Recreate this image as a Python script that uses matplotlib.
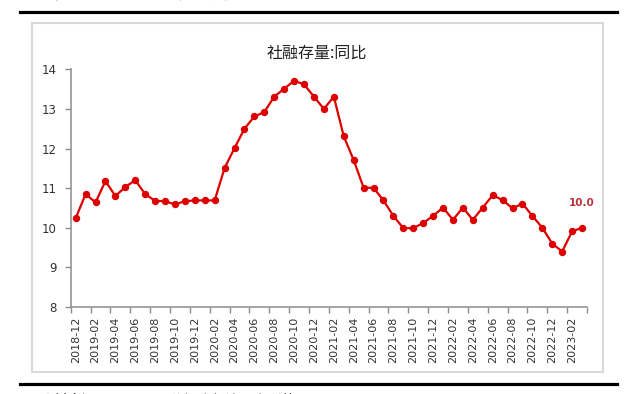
import matplotlib
matplotlib.use("Agg")
import matplotlib.pyplot as plt
from matplotlib.patches import Rectangle
from matplotlib.lines import Line2D

plt.rcParams["font.family"] = ["DejaVu Sans", "Noto Sans CJK SC"]

# 社融存量同比 (%), monthly 2018-12 .. 2023-03
months = (["2018-12"]
          + [f"2019-{m:02d}" for m in range(1, 13)]
          + [f"2020-{m:02d}" for m in range(1, 13)]
          + [f"2021-{m:02d}" for m in range(1, 13)]
          + [f"2022-{m:02d}" for m in range(1, 13)]
          + ["2023-01", "2023-02", "2023-03"])
values = [10.24, 10.85, 10.64, 11.18, 10.80, 11.03, 11.20, 10.85, 10.68, 10.67,
          10.59, 10.67, 10.69, 10.69, 10.69, 11.51, 12.01, 12.50, 12.81, 12.92,
          13.31, 13.51, 13.71, 13.62, 13.31, 13.00, 13.31, 12.31, 11.71, 11.01,
          11.01, 10.69, 10.30, 9.99, 9.99, 10.12, 10.30, 10.51, 10.20, 10.51,
          10.20, 10.51, 10.82, 10.70, 10.49, 10.61, 10.30, 10.00, 9.60, 9.40,
          9.91, 10.00]
title = "社融存量:同比"
yticks = [8, 9, 10, 11, 12, 13, 14]

RED = "#DD0000"
LABEL_RED = "#C0303A"
AXIS = "#8C8C8C"
TEXT = "#333333"

W, H = 640, 394
fig = plt.figure(figsize=(W / 100, H / 100), dpi=100, facecolor="white")


def fx(px):
    return px / W


def fy(py):
    return 1 - py / H


# document rules and the page text that the crop cuts off
for y in (11.5, 384):
    fig.add_artist(Line2D([fx(20), fx(617)], [fy(y), fy(y)], color="black", lw=2.3))
fig.text(fx(35), fy(3), "图表：社融存量同比增速回升", fontsize=13, color="black",
         family=["Noto Sans CJK SC"], va="bottom", ha="left")
fig.text(fx(40), fy(393.5), "资料来源：Wind，国信证券经济研究所整理", fontsize=10,
         color="black", family=["Noto Sans CJK SC"], va="top", ha="left")

# chart frame
fig.add_artist(Rectangle((fx(32), fy(372)), fx(602.5) - fx(32), fy(23) - fy(372),
                         transform=fig.transFigure, fill=False,
                         edgecolor="#D9D9D9", lw=1.5))

ax = fig.add_axes([fx(70.7), fy(307), fx(587) - fx(70.7), fy(69.3) - fy(307)])
x = list(range(len(values)))
ax.plot(x, values, color=RED, lw=1.6, marker="o", markersize=4.3, zorder=3)
ax.annotate(f"{values[-1]:.1f}", (x[-1], values[-1]), xytext=(0, 14),
            textcoords="offset points", ha="center", va="bottom",
            fontsize=7.5, fontweight="bold", color=LABEL_RED)

ax.set_xlim(-0.5, len(values) - 0.5)
ax.set_ylim(8, 14)
ax.set_yticks(yticks)
ax.set_xticks([i - 0.5 for i in range(0, len(values) + 1, 2)])
ax.set_xticklabels([])
ax.set_xticks(x[::2], minor=True)
ax.set_xticklabels(months[::2], minor=True, rotation=90, fontsize=8, color=TEXT)
ax.tick_params(axis="x", which="major", direction="out", length=4, color=AXIS, width=1)
ax.tick_params(axis="x", which="minor", length=0, pad=7)
ax.tick_params(axis="y", direction="out", length=4, color=AXIS, width=1,
               labelsize=8.5, labelcolor=TEXT, pad=6)

for side in ("top", "right"):
    ax.spines[side].set_visible(False)
for side in ("left", "bottom"):
    ax.spines[side].set_color(AXIS)
    ax.spines[side].set_linewidth(1.1)

fig.text(fx(317), fy(53), title, fontsize=11.5, color="#222222", ha="center",
         va="center", family=["Noto Sans CJK SC", "DejaVu Sans"])

fig.savefig("out.png", dpi=100, facecolor="white")
